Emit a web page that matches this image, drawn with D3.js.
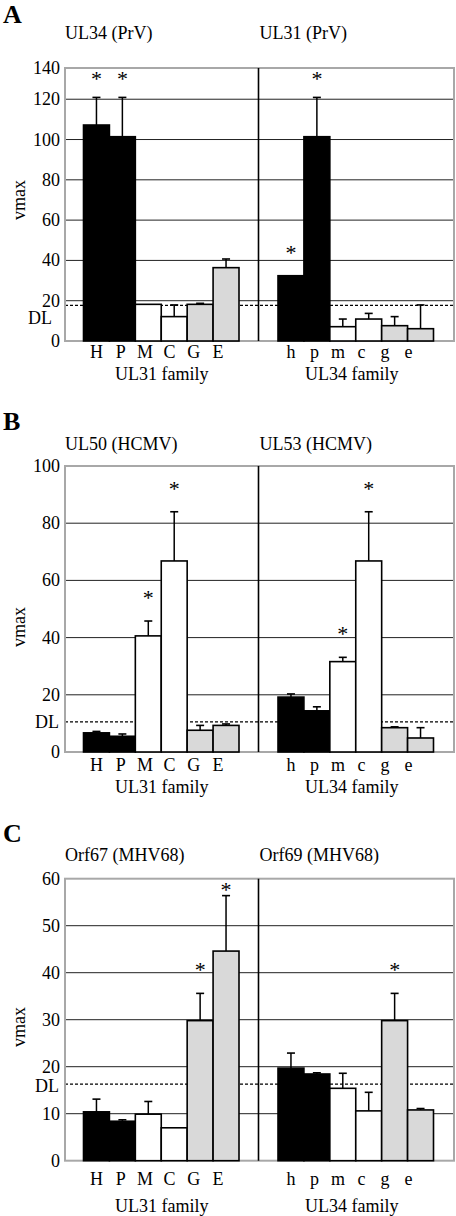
<!DOCTYPE html>
<html><head><meta charset="utf-8">
<script src="https://cdn.jsdelivr.net/npm/d3@7/dist/d3.min.js"></script>
<style>body{margin:0;background:#fff}svg{display:block}text{font-family:"Liberation Serif","Times New Roman",serif;fill:#000}</style>
</head><body><svg id="c" width="456" height="1216"></svg>
<script>
// ---------- data ----------
const catsUpper = ["H","P","M","C","G","E"];
const catsLower = ["h","p","m","c","g","e"];
const familyLabels = ["UL31 family","UL34 family"];

const titlesA = ["UL34 (PrV)","UL31 (PrV)"];
const ticksA = [0,20,40,60,80,100,120,140];
const valsA_left  = [107.2,101.4,18.2,12.1,18.2,36.4];
const errsA_left  = [13.7,19.5,0,5.8,0.5,4.3];
const valsA_right = [32.4,101.4,7.1,10.9,7.6,6.1];
const errsA_right = [0,19.5,3.8,2.8,4.5,11.8];
const starsA_left  = [1,1,0,0,0,0];
const starsA_right = [1,1,0,0,0,0];
const dlA = 17.7;

const titlesB = ["UL50 (HCMV)","UL53 (HCMV)"];
const ticksB = [0,20,40,60,80,100];
const valsB_left  = [6.7,5.5,40.6,66.8,7.6,9.3];
const errsB_left  = [0.5,0.8,5.2,17.2,1.7,0.5];
const valsB_right = [19.2,14.4,31.6,66.8,8.5,4.9];
const errsB_right = [1.1,1.4,1.5,17.2,0.3,3.6];
const starsB_left  = [0,0,1,1,0,0];
const starsB_right = [0,0,1,1,0,0];
const dlB = 10.5;

const titlesC = ["Orf67 (MHV68)","Orf69 (MHV68)"];
const ticksC = [0,10,20,30,40,50,60];
const valsC_left  = [10.4,8.4,9.9,7.0,29.8,44.6];
const errsC_left  = [2.7,0.3,2.7,0,5.8,11.8];
const valsC_right = [19.7,18.45,15.4,10.6,29.8,10.8];
const errsC_right = [3.2,0.25,3.2,3.95,5.8,0.3];
const starsC_left  = [0,0,0,0,1,1];
const starsC_right = [0,0,0,0,1,0];
const dlC = 16.3;

const panelLetters = ["A","B","C"];
const fills = ["#000","#000","#fff","#fff","#d9d9d9","#d9d9d9"];

// ---------- layout ----------
const L = 65, D = 258.5, R = 454;
const panels = [
  {letter:panelLetters[0], titles:titlesA, ticks:ticksA, max:135.5, top:68, bottom:341,
   left:{v:valsA_left,e:errsA_left,s:starsA_left}, right:{v:valsA_right,e:errsA_right,s:starsA_right},
   dl:dlA, dlDy:13, dlX:52, letterY:23, titleY:39, vmaxY:200, catY:358, famY:380},
  {letter:panelLetters[1], titles:titlesB, ticks:ticksB, max:100, top:466, bottom:752,
   left:{v:valsB_left,e:errsB_left,s:starsB_left}, right:{v:valsB_right,e:errsB_right,s:starsB_right},
   dl:dlB, dlDy:0, dlX:59, letterY:430, titleY:450, vmaxY:627, catY:771, famY:793},
  {letter:panelLetters[2], titles:titlesC, ticks:ticksC, max:60, top:878.7, bottom:1160.7,
   left:{v:valsC_left,e:errsC_left,s:starsC_left}, right:{v:valsC_right,e:errsC_right,s:starsC_right},
   dl:dlC, dlDy:2, dlX:59, letterY:842, titleY:861, vmaxY:1027, catY:1185, famY:1212}
];

const svg = d3.select("#c");
const xL = d3.scaleBand().domain(catsUpper).range([L+18.5, D-19.5]).padding(0);
const xR = d3.scaleBand().domain(catsLower).range([D+19.5, R-20.5]).padding(0);
const bw = xL.bandwidth();
const lblL = d3.scalePoint().domain(catsUpper).range([xL(catsUpper[0])+bw/2, xL(catsUpper[5])+bw/2-8]);
const lblR = d3.scalePoint().domain(catsLower).range([xR(catsLower[0])+bw/2, xR(catsLower[5])+bw/2-12]);

panels.forEach(p => {
  const g = svg.append("g");
  const y = d3.scaleLinear().domain([0,p.max]).range([p.bottom,p.top]);
  const yc = v => y(Math.min(v,p.max));

  g.append("text").attr("x",3).attr("y",p.letterY).attr("font-size",26).attr("font-weight","bold").text(p.letter);
  g.append("text").attr("x",L).attr("y",p.titleY).attr("font-size",18).text(p.titles[0]);
  g.append("text").attr("x",D+1).attr("y",p.titleY).attr("font-size",18).text(p.titles[1]);

  // gridlines
  g.selectAll(".grid").data(p.ticks.filter(t=>t>0 && t<p.max)).join("line")
    .attr("x1",L).attr("x2",R).attr("y1",d=>y(d)).attr("y2",d=>y(d))
    .attr("stroke","#222").attr("stroke-width",1);
  // tick labels
  g.selectAll(".tl").data(p.ticks).join("text")
    .attr("x",60).attr("y",d=>yc(d)).attr("text-anchor","end").attr("dominant-baseline","central")
    .attr("font-size",18).text(d=>d);
  // DL
  g.append("line").attr("x1",L).attr("x2",R).attr("y1",y(p.dl)).attr("y2",y(p.dl))
    .attr("stroke","#000").attr("stroke-width",1.3).attr("stroke-dasharray","3,2");
  g.append("text").attr("x",p.dlX).attr("y",y(p.dl)+p.dlDy).attr("text-anchor","end")
    .attr("dominant-baseline","central").attr("font-size",18).text("DL");
  // vmax
  g.append("text").attr("transform",`translate(19,${p.vmaxY}) rotate(-90)`).attr("text-anchor","middle")
    .attr("dominant-baseline","central").attr("font-size",18).text("vmax");

  // frame
  g.append("rect").attr("x",L).attr("y",p.top).attr("width",R-L).attr("height",p.bottom-p.top)
    .attr("fill","none").attr("stroke","#a8a8a8").attr("stroke-width",2);

  [[p.left,catsUpper,xL,lblL],[p.right,catsLower,xR,lblR]].forEach(([s,cats,x,lbl],si) => {
    const data = cats.map((c,i)=>({c,i,v:s.v[i],e:s.e[i],s:s.s[i]}));
    g.selectAll(null).data(data).join("rect")
      .attr("x",d=>x(d.c)).attr("y",d=>y(d.v)).attr("width",bw).attr("height",d=>p.bottom-y(d.v))
      .attr("fill",d=>fills[d.i]).attr("stroke","#000").attr("stroke-width",1.6);
    const eb = data.filter(d=>d.e>0);
    g.selectAll(null).data(eb).join("line")
      .attr("x1",d=>x(d.c)+bw/2).attr("x2",d=>x(d.c)+bw/2).attr("y1",d=>y(d.v)).attr("y2",d=>y(d.v+d.e))
      .attr("stroke","#000").attr("stroke-width",1.5);
    g.selectAll(null).data(eb).join("line")
      .attr("x1",d=>x(d.c)+bw/2-4).attr("x2",d=>x(d.c)+bw/2+4).attr("y1",d=>y(d.v+d.e)).attr("y2",d=>y(d.v+d.e))
      .attr("stroke","#000").attr("stroke-width",1.6);
    g.selectAll(null).data(data.filter(d=>d.s)).join("text")
      .attr("x",d=>x(d.c)+bw/2).attr("y",d=>Math.max(y(d.v+d.e)-26, p.top+8)+10)
      .attr("text-anchor","middle").attr("font-size",22).text("*");
    g.selectAll(null).data(cats).join("text")
      .attr("x",d=>lbl(d)).attr("y",p.catY).attr("text-anchor","middle").attr("font-size",18).text(d=>d);
    const cx = si===0 ? (L+D)/2 : (x.range()[0]+x.range()[1])/2-4;
    g.append("text").attr("x",cx).attr("y",p.famY).attr("text-anchor","middle").attr("font-size",18).text(familyLabels[si]);
  });
  // divider
  g.append("line").attr("x1",D).attr("x2",D).attr("y1",p.top).attr("y2",p.bottom)
    .attr("stroke","#000").attr("stroke-width",1.6);
});
</script></body></html>
